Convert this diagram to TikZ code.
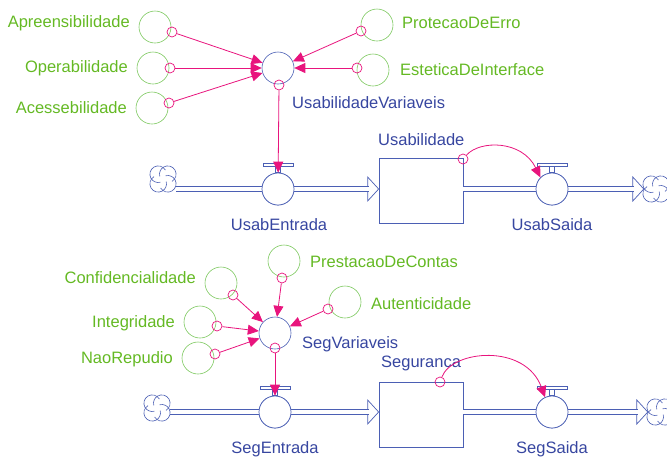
\documentclass[tikz,border=0pt]{standalone}
\usepackage{fontspec}
\setmainfont{Liberation Sans}
\usetikzlibrary{arrows.meta,calc}
\definecolor{auxgreen}{RGB}{125,200,95}
\definecolor{txtgreen}{RGB}{100,185,35}
\definecolor{flowblue}{RGB}{75,95,180}
\definecolor{txtblue}{RGB}{55,70,160}
\definecolor{linkpink}{RGB}{232,20,125}
% open arrowhead at the end of a flow pipe
\newcommand\flowhead[1]{%
  \draw[flowblue, line width=0.7pt, fill=white]
    ($(#1)+(-11,-12)$) -- (#1) -- ($(#1)+(-11,12)$) -- cycle;}
% handle bar and stem on top of a valve
\newcommand\valvebar[1]{%
  \draw[flowblue, line width=0.7pt, fill=white]
    ($(#1.north)+(-15,-9)$) rectangle ($(#1.north)+(15,-6)$);
  \draw[flowblue, line width=0.7pt, fill=white]
    ($(#1.north)+(-2.5,-6)$) rectangle ($(#1.north)+(2.5,0)$);}
% source/sink cloud: four swirling puffs round a named node
\newcommand\cloudpuffs[1]{%
  \foreach \dx/\dy in {-4.8/-4.8, 4.8/-4.8, 4.8/4.8, -4.8/4.8}
    \fill[white] ($(#1)+(\dx,\dy)$) circle[radius=8.3pt];
  \foreach \dx/\dy/\a in {-4.8/-4.8/135, 4.8/-4.8/45, 4.8/4.8/-45, -4.8/4.8/225}
    \draw[flowblue, line width=0.6pt] ($(#1)+(\dx,\dy)$) ++(\a-105:8.3pt)
      arc[start angle=\a-105, end angle=\a+150, radius=8.3pt];}
\begin{document}
\begin{tikzpicture}[x=1pt,y=-1pt,
  every node/.style={inner sep=0pt},
  lab/.style={font=\fontsize{16.5}{19}\selectfont},
  glab/.style={lab, text=txtgreen},
  blab/.style={lab, text=txtblue},
  aux/.style={circle, draw=auxgreen, line width=0.6pt, minimum size=32pt},
  conv/.style={circle, draw=flowblue, line width=0.6pt, minimum size=32pt},
  valve/.style={circle, draw=flowblue, fill=white, line width=0.7pt, minimum size=32pt},
  tap/.style={circle, draw=linkpink, line width=0.7pt, minimum size=10pt},
  link/.style={draw=linkpink, line width=0.8pt, -{Triangle[length=11pt,width=10pt]}},
  stock/.style={rectangle, draw=flowblue, line width=0.7pt, fill=white, minimum width=84pt, minimum height=65pt},
  pipe/.style={draw=flowblue, line width=0.7pt, double=white, double distance=4.5pt},
  sink/.style={circle, minimum size=27pt},
]
\useasboundingbox (0,0) rectangle (667,459);

% ---------------- Usabilidade ----------------
\node[stock] (ubox) at (421,190.5) {};
\node[valve] (ue) at (278,189) {};
\node[valve] (us) at (552,189) {};
\node[sink] (cl1) at (163,179) {};
\node[sink] (cr1) at (656,189) {};
\coordinate (uin) at (ubox.west |- ue);
\coordinate (uout) at ($(cr1.west |- us)+(1.5,0)$);

\flowhead{uin}
\flowhead{uout}
\draw[pipe] ($(cl1.east |- ue)+(-1,0)$) -- (ue);
\draw[pipe] (ue) -- ($(uin)+(-9.5,0)$);
\draw[pipe] (ubox.east |- us) -- (us);
\draw[pipe] (us) -- ($(uout)+(-9.5,0)$);
\cloudpuffs{cl1}
\cloudpuffs{cr1}
\node[valve] at (ue) {};
\node[valve] at (us) {};
\valvebar{ue}
\valvebar{us}

\node[aux] (apre) at (155,27) {};
\node[aux] (oper) at (153,68) {};
\node[aux] (aces) at (152,108) {};
\node[aux] (prot) at (377,25) {};
\node[aux] (este) at (373,70) {};
\node[conv] (usv) at (278,68) {};

\node[tap] (apreT) at (172,32) {};
\node[tap] (operT) at (170,68) {};
\node[tap] (acesT) at (169,103) {};
\node[tap] (protT) at (361,31) {};
\node[tap] (esteT) at (357,68) {};
\node[tap] (usvT) at (279,85) {};
\node[tap] (uboxT) at (463,159) {};

\draw[link] (apreT) -- (usv);
\draw[link] (operT) -- (usv);
\draw[link] (acesT) -- (usv);
\draw[link] (protT) -- (usv);
\draw[link] (esteT) -- (usv);
\draw[link] (usvT) -- (ue);
\draw[link] (uboxT) .. controls (480,140) and (522,140) .. (us.north west);

\node[glab, anchor=base east] (apreL) at (130,27) {Apreensibilidade};
\node[glab, anchor=base east] (operL) at (128,72) {Operabilidade};
\node[glab, anchor=base east] (acesL) at (127,113) {Acessebilidade};
\node[glab, anchor=base west] (protL) at (402,28) {ProtecaoDeErro};
\node[glab, anchor=base west] (esteL) at (400,75) {EsteticaDeInterface};
\node[blab, anchor=base west] (usvL) at (292,108) {UsabilidadeVariaveis};
\node[blab, anchor=base west] (uboxL) at (378,145) {Usabilidade};
\node[blab, anchor=base] (ueL) at (279,230) {UsabEntrada};
\node[blab, anchor=base] (usL) at (552,230) {UsabSaida};

% ---------------- Seguranca ----------------
\node[stock] (sbox) at (421,414.5) {};
\node[valve] (se) at (275,412) {};
\node[valve] (ss) at (552,412) {};
\node[sink] (cl2) at (157,408) {};
\node[sink] (cr2) at (660,412) {};
\coordinate (sin) at (sbox.west |- se);
\coordinate (sout) at ($(cr2.west |- ss)+(1.5,0)$);

\flowhead{sin}
\flowhead{sout}
\draw[pipe] ($(cl2.east |- se)+(-1,0)$) -- (se);
\draw[pipe] (se) -- ($(sin)+(-9.5,0)$);
\draw[pipe] (sbox.east |- ss) -- (ss);
\draw[pipe] (ss) -- ($(sout)+(-9.5,0)$);
\cloudpuffs{cl2}
\cloudpuffs{cr2}
\node[valve] at (se) {};
\node[valve] at (ss) {};
\valvebar{se}
\valvebar{ss}

\node[aux] (conf) at (221,283) {};
\node[aux] (inte) at (200,322) {};
\node[aux] (naor) at (198,358) {};
\node[aux] (pres) at (284,261) {};
\node[aux] (aute) at (345,302) {};
\node[conv] (sgv) at (275,333) {};

\node[tap] (confT) at (233,295) {};
\node[tap] (inteT) at (217,326) {};
\node[tap] (naorT) at (215,354) {};
\node[tap] (presT) at (282,278) {};
\node[tap] (auteT) at (328,309) {};
\node[tap] (sgvT) at (275,348) {};
\node[tap] (sboxT) at (440,382) {};

\draw[link] (confT) -- (sgv);
\draw[link] (inteT) -- (sgv);
\draw[link] (naorT) -- (sgv);
\draw[link] (presT) -- (sgv);
\draw[link] (auteT) -- (sgv);
\draw[link] (sgvT) -- (se);

\node[glab, anchor=base east] (confL) at (196,283) {Confidencialidade};
\node[glab, anchor=base east] (inteL) at (175,327) {Integridade};
\node[glab, anchor=base east] (naorL) at (173,363) {NaoRepudio};
\node[glab, anchor=base west] (presL) at (310,267) {PrestacaoDeContas};
\node[glab, anchor=base west] (auteL) at (371,309) {Autenticidade};
\node[blab, anchor=base west] (sgvL) at (302,348) {SegVariaveis};
\node[blab, anchor=base west] (sboxL) at (381,367) {Seguranca};
\node[blab, anchor=base] (seL) at (275,453) {SegEntrada};
\node[blab, anchor=base] (ssL) at (552,453) {SegSaida};

\draw[link] (sboxT) .. controls (452,350) and (525,343) .. (ss.115);
\end{tikzpicture}
\end{document}
